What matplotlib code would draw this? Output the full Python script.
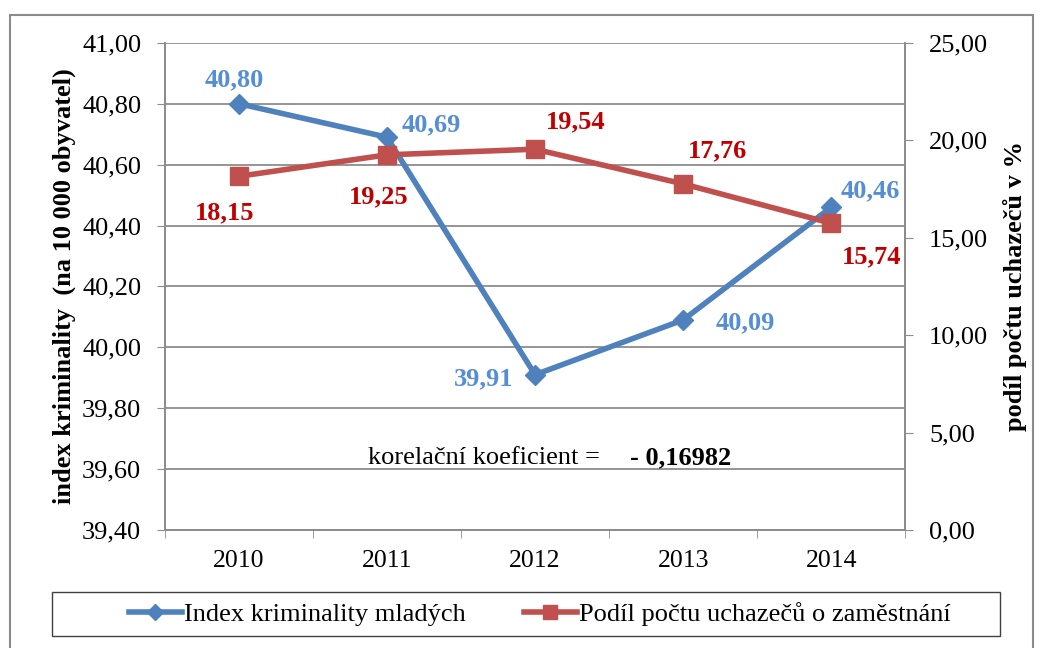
import numpy as np
import matplotlib.pyplot as plt
from matplotlib.ticker import FuncFormatter, FixedLocator

years = ['2010', '2011', '2012', '2013', '2014']
index_krim = [40.80, 40.69, 39.91, 40.09, 40.46]
podil_uch = [18.15, 19.25, 19.54, 17.76, 15.74]

# label offsets in points (dx, dy) for each data label
blue_off = [(-3, 17), (32, 9), (-37, -3), (45, -2), (28, 12)]
red_off = [(-10, -26), (-6, -30), (29, 20), (25, 24), (29, -24)]

plt.rcParams['font.family'] = ['Liberation Serif', 'DejaVu Serif']

blue = '#4F81BD'
red = '#C0504D'
blue_txt = '#558ED5'
red_txt = '#C00000'
grey = '#8C8C8C'
fs = 19

fig = plt.figure(figsize=(10.43, 6.48), dpi=100)
ax = fig.add_axes([0.158, 0.182, 0.710, 0.752])
ax2 = ax.twinx()

x = np.arange(len(years))
ax.plot(x, index_krim, color=blue, lw=4, marker='D', ms=10, zorder=3,
        label='Index kriminality mladých')
ax2.plot(x, podil_uch, color=red, lw=4, marker='s', ms=13, zorder=3,
         label='Podíl počtu uchazečů o zaměstnání')

for xi, v, (dx, dy) in zip(x, index_krim, blue_off):
    ax.annotate(f'{v:.2f}'.replace('.', ','), (xi, v), xytext=(dx, dy),
                textcoords='offset points', ha='center', va='center',
                color=blue_txt, fontsize=fs, fontweight='bold')
for xi, v, (dx, dy) in zip(x, podil_uch, red_off):
    ax2.annotate(f'{v:.2f}'.replace('.', ','), (xi, v), xytext=(dx, dy),
                 textcoords='offset points', ha='center', va='center',
                 color=red_txt, fontsize=fs, fontweight='bold')

comma = FuncFormatter(lambda v, p: f'{v:.2f}'.replace('.', ','))
ax.set_ylim(39.4, 41.0)
ax.set_yticks(np.arange(39.4, 41.01, 0.2))
ax.yaxis.set_major_formatter(comma)
ax2.set_ylim(0, 25)
ax2.set_yticks(np.arange(0, 25.1, 5))
ax2.yaxis.set_major_formatter(comma)

ax.set_xlim(-0.5, 4.5)
ax.set_xticks(x)
ax.set_xticklabels(years)
ax.xaxis.set_minor_locator(FixedLocator(np.arange(-0.5, 4.6, 1)))
ax.tick_params(axis='x', which='major', length=0, labelsize=18.5, pad=14)
ax.tick_params(axis='x', which='minor', length=6, color=grey, direction='out')
ax.tick_params(axis='y', labelsize=fs, length=6, color=grey, pad=11)
ax2.tick_params(axis='y', labelsize=fs, length=6, color=grey, pad=11)

ax.grid(axis='y', color=grey, lw=1.3)
ax.set_axisbelow(True)
for a in (ax, ax2):
    a.spines['top'].set_visible(False)
    for s in ('left', 'right', 'bottom'):
        a.spines[s].set_color(grey)
        a.spines[s].set_linewidth(1.3)

ax.set_ylabel('index kriminality  (na 10 000 obyvatel)', fontsize=fs,
              fontweight='bold', labelpad=4)
ax2.set_ylabel('podíl počtu uchazečů v %', fontsize=fs, fontweight='bold',
               labelpad=11)

ax.text(0.588, 0.148, 'korelační koeficient =', transform=ax.transAxes,
        ha='right', va='center', fontsize=fs)
ax.text(0.628, 0.148, '- 0,16982', transform=ax.transAxes,
        ha='left', va='center', fontsize=fs, fontweight='bold')

h1, l1 = ax.get_legend_handles_labels()
h2, l2 = ax2.get_legend_handles_labels()
leg = fig.legend(h1 + h2, l1 + l2, loc='center', ncol=2,
                 bbox_to_anchor=(540 / 1043, 1 - 614 / 648),
                 bbox_transform=fig.transFigure,
                 fontsize=fs, frameon=False,
                 handlelength=2.0, handletextpad=0.1, columnspacing=2.2,
                 markerscale=0.8)

# legend box and outer chart frame
fig.patches.append(plt.Rectangle((52 / 1043, 1 - 636 / 648), 948 / 1043, 44 / 648,
                                 transform=fig.transFigure, fill=False,
                                 edgecolor='#404040', lw=1.0))
fig.patches.append(plt.Rectangle((10 / 1043, -0.05), 1023 / 1043, 1.05 - 15 / 648,
                                 transform=fig.transFigure, fill=False,
                                 edgecolor=grey, lw=1.5))

fig.savefig('out.png', dpi=100)
